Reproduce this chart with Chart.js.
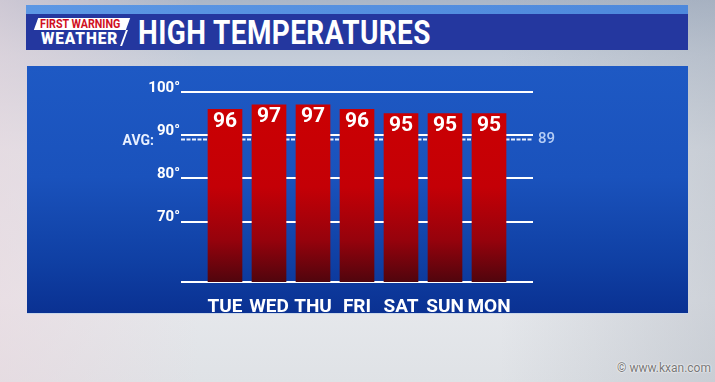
<!DOCTYPE html>
<html><head><meta charset="utf-8">
<script src="https://cdn.jsdelivr.net/npm/chart.js@4.4.1/dist/chart.umd.min.js"></script>
<style>
html,body{margin:0;padding:0;width:715px;height:382px;overflow:hidden;}
body{position:relative;font-family:Roboto,"Noto Sans",sans-serif;
 background:
  linear-gradient(90deg, rgba(235,215,222,0.55) 0px, rgba(235,225,230,0.0) 200px, rgba(255,255,255,0) 500px, rgba(160,168,180,0.35) 715px),
  linear-gradient(180deg,#aab6c8 0px,#c4ccd8 55px,#dde1e7 150px,#e6e8ec 300px,#dfe2e6 382px);}
#hdrTop{position:absolute;left:26px;top:5px;width:662px;height:9px;background:linear-gradient(90deg,#5c97e4,#4d88dc);}
#hdr{position:absolute;left:26px;top:14px;width:662px;height:36px;background:#24379f;}
#title{position:absolute;left:138px;top:14px;height:36px;line-height:37px;font-weight:700;font-size:33px;color:#fff;transform-origin:0 50%;white-space:nowrap;letter-spacing:0.5px;}
#logoTop{position:absolute;left:36px;top:18px;width:92px;height:12px;background:#fff;transform:skewX(-20deg);}
#logoTopTxt{position:absolute;left:40px;top:17px;font-weight:700;font-size:13px;line-height:14px;color:#d0101e;white-space:nowrap;transform-origin:0 50%;}
#logoBot{position:absolute;left:41px;top:30px;font-weight:900;font-size:17px;line-height:16px;color:#fff;white-space:nowrap;letter-spacing:1px;transform-origin:0 50%;}
#logoSlash{position:absolute;left:123px;top:30px;width:2px;height:16px;background:#fff;transform:skewX(-20deg);}
#panel{position:absolute;left:27px;top:66px;width:661px;height:247px;background:linear-gradient(180deg,#1e59c4 0%,#1a52bc 45%,#0f3fa3 80%,#0a3192 100%);border-bottom:1px solid #c8d6ea;}
#wm{position:absolute;right:4px;top:361px;font-size:12px;color:#777;text-shadow:0 0 2px #fff,0 0 2px #fff;}
#c{position:absolute;left:0;top:0;}
</style></head>
<body>
<div id="hdrTop"></div><div id="hdr"></div>
<div id="logoTop"></div>
<div id="logoTopTxt">FIRST WARNING</div>
<div id="logoBot">WEATHER</div>
<div id="logoSlash"></div>
<div id="title">HIGH TEMPERATURES</div>
<div id="panel"></div>
<div id="wm">© www.kxan.com</div>
<canvas id="c" width="715" height="382"></canvas>
<script>
// ---- data ----
const days = ["TUE","WED","THU","FRI","SAT","SUN","MON"];
const highs = [96, 97, 97, 96, 95, 95, 95];
const yTicks = [70, 80, 90, 100];
const avgHigh = 89;
const yMin = 56, yMax = 100;

function fitText(id, w){const e=document.getElementById(id);const r=e.scrollWidth; e.style.transform='scaleX('+(w/r)+')';}
fitText('title',293);
fitText('logoTopTxt',80);
fitText('logoBot',77);

const FONT = 'Roboto, "Noto Sans", sans-serif';

const labelPlugin = {
  id:'labels',
  afterDatasetsDraw(chart){
    const ctx = chart.ctx;
    const y = chart.scales.y;
    const area = chart.chartArea;
    const meta = chart.getDatasetMeta(1);
    ctx.save();
    ctx.fillStyle = '#fff';
    ctx.textAlign = 'center';
    ctx.textBaseline = 'middle';
    ctx.font = 'bold 21px ' + FONT;
    meta.data.forEach((bar,i)=>{
      ctx.fillText(String(highs[i]), bar.x, bar.y + 12);
    });
    const ay = y.getPixelForValue(avgHigh);
    ctx.font = 'bold 14px ' + FONT;
    ctx.textAlign = 'right';
    ctx.fillStyle = '#e8f0ff';
    ctx.fillText('AVG:', area.left - 27, ay + 2);
    ctx.font = '500 15px ' + FONT;
    ctx.textAlign = 'left';
    ctx.fillStyle = '#b5cdf5';
    ctx.fillText(String(avgHigh), area.right + 5, ay);
    ctx.restore();
  }
};

new Chart(document.getElementById('c'), {
  data:{
    datasets:[
      {type:'line', order:2, data:[{x:-1,y:avgHigh},{x:7,y:avgHigh}], borderColor:'#e8f0ff', borderWidth:2, borderDash:[4,1.5], pointRadius:0},
      {type:'bar', order:1, data: highs.map((v,i)=>({x:i,y:v})), barThickness:34,
        backgroundColor(ctx){
          const a = ctx.chart.chartArea; if(!a) return '#c80000';
          const g = ctx.chart.ctx.createLinearGradient(0,a.top,0,a.bottom);
          g.addColorStop(0,'#cc0002'); g.addColorStop(0.5,'#c40006'); g.addColorStop(0.78,'#96020c'); g.addColorStop(1,'#50050d');
          return g;
        }, borderWidth:0}
    ]
  },
  options:{
    responsive:false, animation:false, devicePixelRatio:1,
    layout:{padding:{left:0,right:182,top:92,bottom:69}},
    plugins:{legend:{display:false},tooltip:{enabled:false}},
    scales:{
      x:{type:'linear', offset:false, min:-1, max:7, grid:{display:false, offset:false}, border:{display:false},
        afterBuildTicks(s){ s.ticks = days.map((d,i)=>({value:i})); },
        afterFit(s){ s.height = 31; },
        ticks:{color:'#fff', padding:6, maxRotation:0, autoSkip:false, font:{family:FONT, weight:'bold', size:19},
          callback(v){ return days[v] || ''; }}},
      y:{min:yMin, max:yMax, border:{display:false},
        grid:{color:'#ffffff', lineWidth:2, drawTicks:false},
        afterBuildTicks(s){ s.ticks = [yMin, ...yTicks].map(v=>({value:v})); },
        afterFit(s){ s.width = 181; },
        ticks:{color:'#fff', padding:1, labelOffset:-4, font:{family:FONT, weight:'bold', size:15},
          callback(v){ return yTicks.includes(v) ? v + '°' : ''; }}}
    }
  },
  plugins:[labelPlugin]
});
</script>
</body></html>
